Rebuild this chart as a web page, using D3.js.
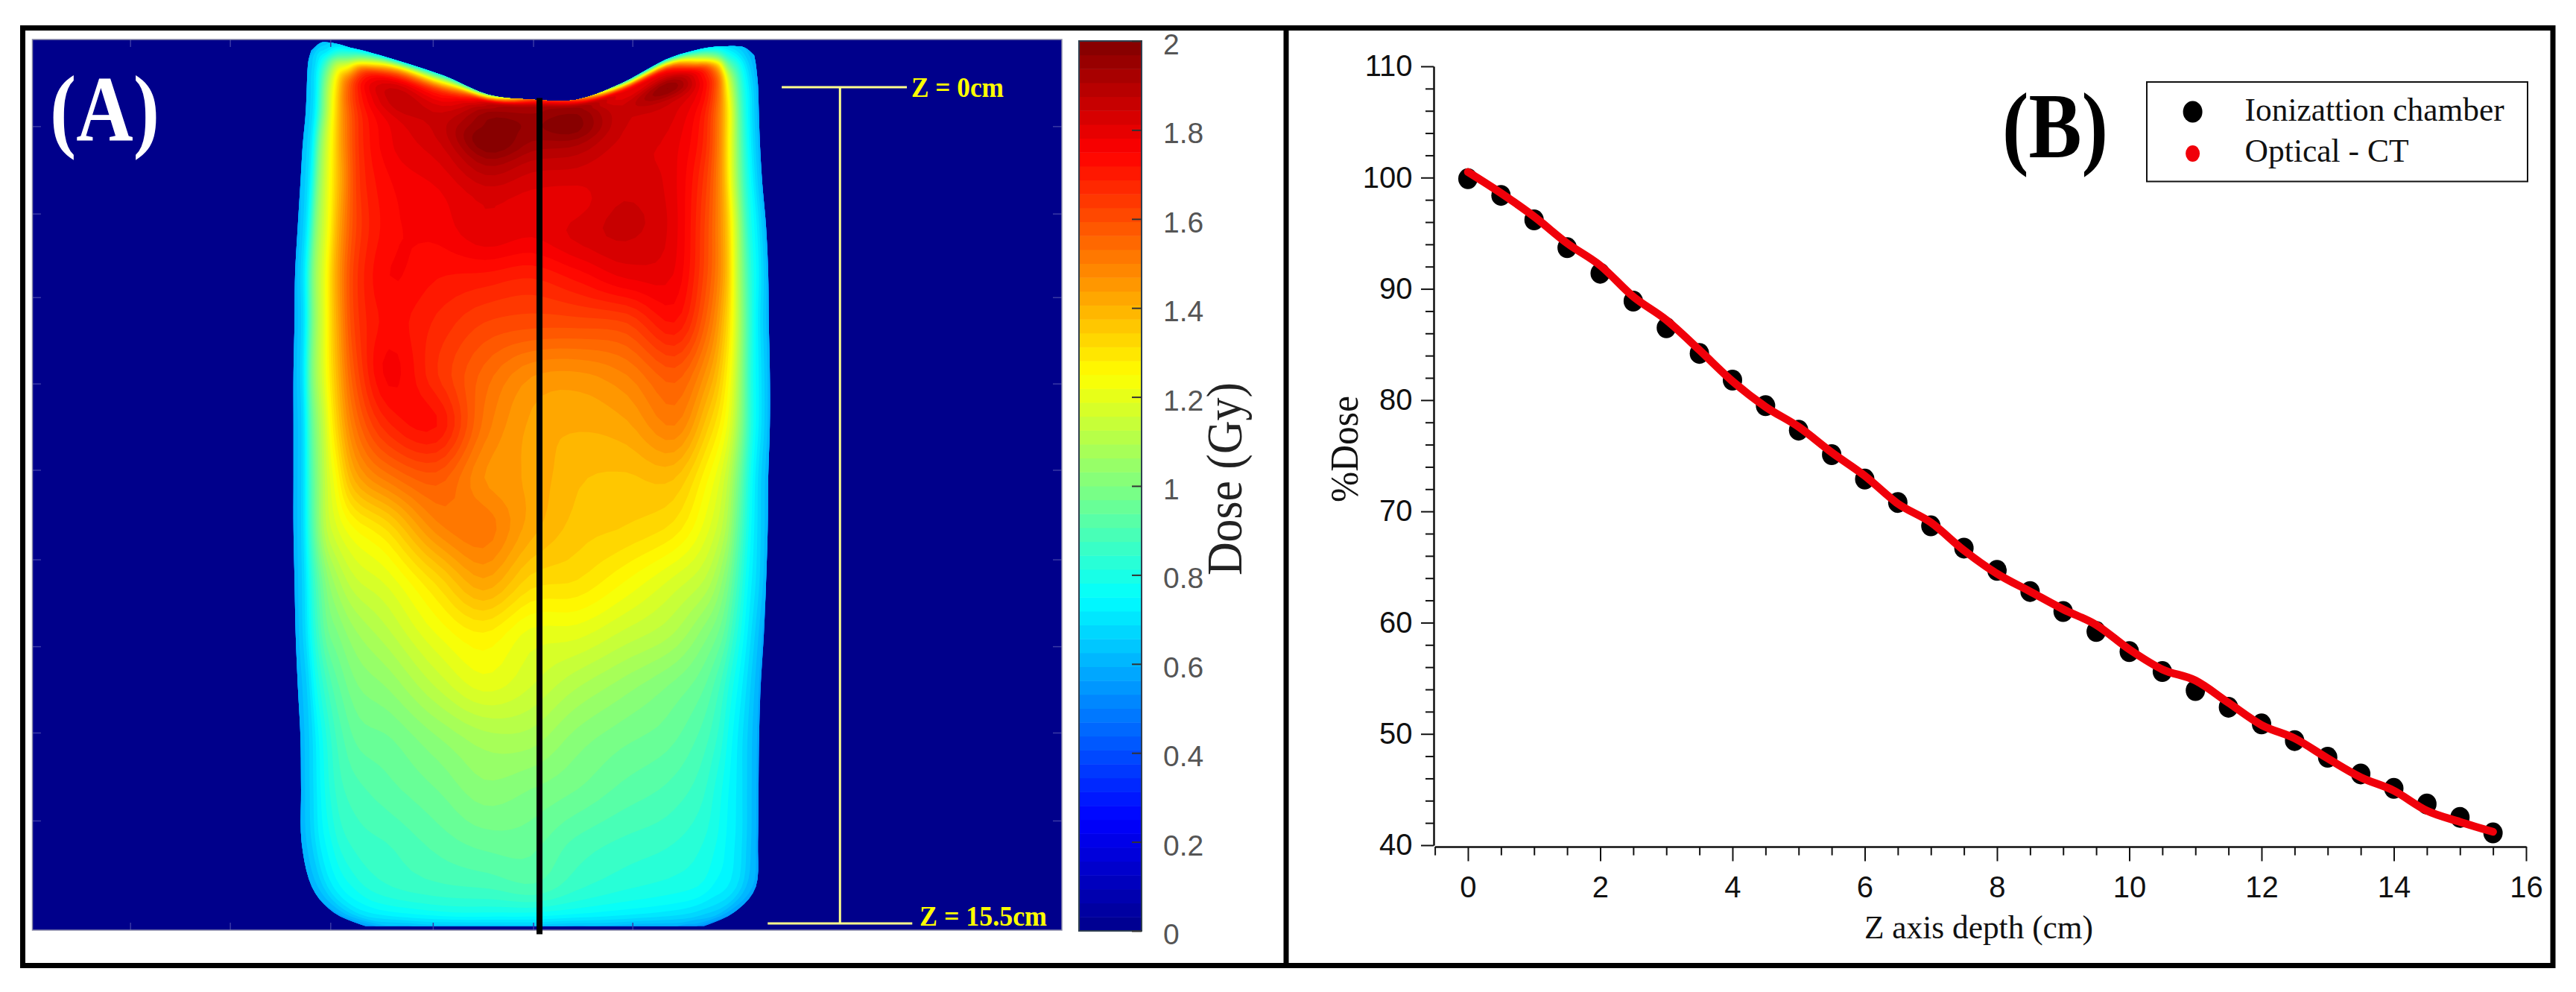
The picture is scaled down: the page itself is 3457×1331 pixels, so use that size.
<!DOCTYPE html>
<html>
<head>
<meta charset="utf-8">
<script src="https://cdn.jsdelivr.net/npm/d3@7"></script>
<style>
    html, body { margin: 0; padding: 0; background: #fff; }
    svg { display: block; }
</style>
</head>
<body>
<div id="chartContainer"></div>
<script>
// Panel B: depth dose curves
const depthCm = [0, 0.5, 1, 1.5, 2, 2.5, 3, 3.5, 4, 4.5, 5, 5.5, 6, 6.5, 7, 7.5, 8, 8.5, 9, 9.5, 10, 10.5, 11, 11.5, 12, 12.5, 13, 13.5, 14, 14.5, 15, 15.5];
const chamberDose = [99.9, 98.4, 96.2, 93.7, 91.4, 88.9, 86.5, 84.2, 81.8, 79.5, 77.3, 75.1, 72.9, 70.8, 68.7, 66.7, 64.7, 62.8, 61, 59.2, 57.4, 55.6, 53.9, 52.4, 50.9, 49.4, 47.9, 46.4, 45.1, 43.7, 42.5, 41.1];
const opticalDose = [100.5, 98.6, 96.5, 94.1, 92.1, 89.3, 87.2, 84.5, 81.7, 79.4, 77.6, 75.3, 73.2, 70.7, 69, 66.5, 64.4, 62.8, 61.2, 59.8, 57.6, 55.8, 54.8, 52.8, 50.8, 49.6, 47.8, 46.1, 44.9, 43.1, 42.1, 41.2];
const xMajorTicks = [0, 2, 4, 6, 8, 10, 12, 14, 16];
const xMinorTicks = [-0.5, 0.5, 1, 1.5, 2.5, 3, 3.5, 4.5, 5, 5.5, 6.5, 7, 7.5, 8.5, 9, 9.5, 10.5, 11, 11.5, 12.5, 13, 13.5, 14.5, 15, 15.5];
const yMajorTicks = [40, 50, 60, 70, 80, 90, 100, 110];
const yMinorTicks = [42, 44, 46, 48, 52, 54, 56, 58, 62, 64, 66, 68, 72, 74, 76, 78, 82, 84, 86, 88, 92, 94, 96, 98, 102, 104, 106, 108];
const legendNames = ["Ionizattion chamber", "Optical - CT"];

// Panel A: dose map. Rows run down the phantom, columns across it.
const doseTicks = [0, 0.2, 0.4, 0.6, 0.8, 1, 1.2, 1.4, 1.6, 1.8, 2];
const columnStops = [0, 0.02, 0.04, 0.065, 0.09, 0.13, 0.2, 0.3, 0.4, 0.5, 0.6, 0.7, 0.8, 0.87, 0.91, 0.935, 0.96, 0.98, 1];
const rowDepth = [-0.83, -0.65, -0.46, -0.23, 0.07, 0.46, 1.01, 1.70, 2.53, 3.43, 4.32, 5.29, 6.26, 7.22, 8.19, 9.16, 10.12, 11.09, 12.06, 13.02, 13.99, 14.82, 15.30, 15.55];
const leftEdge = [-4.23, -4.28, -4.30, -4.31, -4.32, -4.34, -4.39, -4.43, -4.48, -4.53, -4.54, -4.56, -4.56, -4.56, -4.56, -4.54, -4.52, -4.48, -4.43, -4.42, -4.41, -4.22, -3.81, -3.23];
const rightEdge = [3.98, 4.01, 4.03, 4.05, 4.06, 4.07, 4.09, 4.13, 4.20, 4.24, 4.25, 4.27, 4.27, 4.24, 4.23, 4.20, 4.16, 4.10, 4.07, 4.06, 4.05, 4.01, 3.60, 3.05];
const surfaceDip = [0.15, 0.01, 0, 0.04, 0.10, 0.18, 0.35, 0.62, 0.97, 1.06, 1.06, 0.76, 0.32, 0.14, 0.08, 0.07, 0.07, 0.10, 0.24];
const doseRows = [
    [.6, .62, .65, .68, .7, .72, .75, .8, 1.0, 1.6, 1.6, .9, .75, .72, .7, .68, .65, .62, .6],
    [.62, .68, .72, .85, .95, 1.15, 1.4, 1.3, 1.75, 1.88, 1.9, 1.7, 1.6, 1.2, 1.0, .82, .72, .65, .6],
    [.62, .7, .85, 1.1, 1.25, 1.6, 1.72, 1.65, 1.9, 1.93, 1.96, 1.8, 1.85, 1.68, 1.4, 1.0, .8, .68, .6],
    [.62, .72, .95, 1.25, 1.5, 1.75, 1.85, 1.78, 1.96, 1.96, 1.98, 1.85, 1.97, 1.78, 1.55, 1.15, .85, .7, .6],
    [.62, .72, 1.0, 1.3, 1.55, 1.74, 1.86, 1.85, 1.98, 1.96, 1.97, 1.85, 1.85, 1.76, 1.55, 1.22, .88, .72, .6],
    [.62, .72, 1.0, 1.3, 1.52, 1.7, 1.8, 1.86, 2.0, 1.92, 1.9, 1.84, 1.82, 1.72, 1.52, 1.25, .9, .72, .6],
    [.62, .72, 1.02, 1.27, 1.48, 1.68, 1.78, 1.82, 1.9, 1.85, 1.84, 1.82, 1.8, 1.7, 1.5, 1.22, .9, .72, .6],
    [.62, .72, 1.02, 1.25, 1.44, 1.66, 1.75, 1.78, 1.82, 1.8, 1.8, 1.84, 1.8, 1.66, 1.46, 1.18, .88, .72, .6],
    [.6, .72, 1.02, 1.23, 1.44, 1.64, 1.74, 1.76, 1.8, 1.78, 1.82, 1.85, 1.8, 1.62, 1.42, 1.15, .85, .72, .6],
    [.6, .72, 1.02, 1.23, 1.44, 1.65, 1.75, 1.72, 1.7, 1.68, 1.72, 1.78, 1.78, 1.6, 1.4, 1.12, .85, .72, .6],
    [.6, .7, 1.0, 1.22, 1.42, 1.64, 1.73, 1.68, 1.62, 1.6, 1.6, 1.62, 1.72, 1.55, 1.35, 1.12, .85, .7, .6],
    [.6, .7, 1.0, 1.2, 1.38, 1.6, 1.76, 1.66, 1.55, 1.47, 1.46, 1.5, 1.58, 1.45, 1.28, 1.08, .82, .7, .6],
    [.6, .68, .95, 1.15, 1.33, 1.53, 1.68, 1.72, 1.52, 1.43, 1.41, 1.43, 1.5, 1.35, 1.22, 1.05, .82, .7, .6],
    [.6, .68, .92, 1.12, 1.25, 1.42, 1.52, 1.58, 1.47, 1.43, 1.38, 1.37, 1.38, 1.26, 1.15, 1.0, .8, .68, .6],
    [.6, .68, .9, 1.1, 1.18, 1.25, 1.32, 1.48, 1.52, 1.42, 1.36, 1.34, 1.3, 1.2, 1.1, .95, .78, .68, .6],
    [.6, .68, .85, 1.0, 1.08, 1.15, 1.2, 1.32, 1.43, 1.33, 1.31, 1.25, 1.18, 1.12, 1.02, .9, .76, .68, .6],
    [.6, .68, .82, .95, 1.0, 1.06, 1.12, 1.22, 1.28, 1.21, 1.2, 1.15, 1.1, 1.02, .95, .85, .74, .66, .58],
    [.6, .66, .78, .88, .94, 1.0, 1.04, 1.13, 1.2, 1.16, 1.1, 1.05, 1.0, .95, .88, .8, .72, .65, .58],
    [.6, .66, .75, .84, .9, .95, .97, 1.03, 1.08, 1.08, 1.02, .98, .95, .9, .84, .77, .7, .64, .58],
    [.6, .66, .74, .82, .87, .9, .93, .97, 1.02, 1.0, .97, .93, .9, .86, .8, .75, .7, .64, .58],
    [.6, .65, .72, .78, .83, .86, .88, .92, .95, .95, .9, .87, .85, .82, .78, .74, .7, .64, .58],
    [.6, .64, .7, .75, .78, .82, .85, .87, .88, .9, .85, .82, .8, .78, .74, .72, .68, .62, .58],
    [.58, .62, .66, .7, .72, .74, .76, .78, .78, .78, .76, .74, .72, .7, .68, .66, .64, .6, .56],
    [.56, .58, .6, .62, .62, .62, .64, .64, .64, .64, .62, .62, .6, .6, .6, .58, .58, .56, .54]
];

function createChart() {
    const width = 3457;
    const height = 1331;
    const serif = '"Liberation Serif", "Times New Roman", serif';
    const narrow = '"Liberation Sans Narrow", "Liberation Sans", sans-serif';

    const svg = d3.create("svg")
        .attr("width", width)
        .attr("height", height)
        .attr("viewBox", `0 0 ${width} ${height}`)
        .style("background", "#fff");

    // Scales for panel A, lateral and depth position in cm.
    const heatX = d3.scaleLinear().domain([-10, 10]).range([0, 1448]);
    const heatY = d3.scaleLinear().domain([0, 15.5]).range([117, 1239]);

    // MATLAB style jet colormap.
    const jet = d3.scaleLinear()
        .domain([0, 0.25, 0.75, 1.25, 1.75, 2])
        .range(["#00008b", "#0000ff", "#00ffff", "#ffff00", "#ff0000", "#800000"]);

    // Map background.
    svg.append("rect")
        .attr("x", 43.5)
        .attr("y", 53)
        .attr("width", 1381.5)
        .attr("height", 1195)
        .attr("fill", "#00008b");

    // Resample the table so the filled contours come out round.
    const factor = 5;
    const nCols = columnStops.length;
    const nRows = doseRows.length;
    const fineCols = (nCols - 1) * factor + 1;
    const fineRows = (nRows - 1) * factor + 1;
    const cubic = (a, b, c, d, t) => b + 0.5 * t * (c - a + t * (2 * a - 5 * b + 4 * c - d + t * (3 * (b - c) + d - a)));
    const sampleRow = (row, t) => {
        const s = Math.max(0, Math.min(row.length - 1, t));
        const i = Math.min(Math.floor(s), row.length - 2);
        const at = k => row[Math.max(0, Math.min(row.length - 1, k))];
        return cubic(at(i - 1), at(i), at(i + 1), at(i + 2), s - i);
    };
    const fine = new Array(fineCols * fineRows);
    for (let i = 0; i < fineCols; i++) {
        const column = doseRows.map(row => sampleRow(row, i / factor));
        for (let j = 0; j < fineRows; j++) {
            fine[j * fineCols + i] = sampleRow(column, j / factor);
        }
    }

    // Index space of the grid to position on the phantom.
    const span = rowDepth[nRows - 1] - rowDepth[0];
    const meshPath = d3.geoPath(d3.geoTransform({
        point(px, py) {
            const i = (px - 0.5) / factor;
            const j = (py - 0.5) / factor;
            const rowZ = sampleRow(rowDepth, j);
            const fade = Math.pow(1 - (rowZ - rowDepth[0]) / span, 6);
            const left = sampleRow(leftEdge, j);
            const right = sampleRow(rightEdge, j);
            const lateral = left + (right - left) * sampleRow(columnStops, i);
            this.stream.point(heatX(lateral), heatY(rowZ + sampleRow(surfaceDip, i) * fade));
        }
    }));

    // Filled contours, one for each of the 64 colormap levels.
    const levels = d3.range(16, 64).map(k => k * 2 / 64);
    const contours = d3.contours()
        .size([fineCols, fineRows])
        .thresholds(levels)(fine);

    svg.append("g")
        .selectAll("path")
        .data(contours)
        .join("path")
        .attr("d", meshPath)
        .attr("fill", d => jet(d.value + 1 / 64));

    // Faint ticks the image still shows along its edges.
    const heatFrame = svg.append("g")
        .attr("fill", "none")
        .attr("stroke", "#3a3aa5")
        .attr("stroke-width", 1.5);
    [-7.58, -5.73, -3.87, -1.97, -0.11, 1.73].forEach(v => {
        heatFrame.append("line").attr("x1", heatX(v)).attr("x2", heatX(v)).attr("y1", 53).attr("y2", 63);
        heatFrame.append("line").attr("x1", heatX(v)).attr("x2", heatX(v)).attr("y1", 1238).attr("y2", 1248);
    });
    [0.73, 2.35, 3.9, 5.5, 7.1, 8.76, 10.37, 11.97, 13.6].forEach(v => {
        heatFrame.append("line").attr("x1", 1413).attr("x2", 1425).attr("y1", heatY(v)).attr("y2", heatY(v));
        heatFrame.append("line").attr("x1", 43.5).attr("x2", 55).attr("y1", heatY(v)).attr("y2", heatY(v));
    });
    svg.append("rect")
        .attr("x", 43.5)
        .attr("y", 53)
        .attr("width", 1381.5)
        .attr("height", 1195)
        .attr("fill", "none")
        .attr("stroke", "#8a8aa8")
        .attr("stroke-width", 1.5);

    // Central axis line.
    svg.append("line")
        .attr("x1", heatX(0))
        .attr("x2", heatX(0))
        .attr("y1", heatY(0.2))
        .attr("y2", heatY(15.7))
        .attr("stroke", "#000")
        .attr("stroke-width", 8);

    // Yellow depth markers.
    const marker = svg.append("g")
        .attr("stroke", "#ffff8c")
        .attr("stroke-width", 3);
    marker.append("line").attr("x1", heatX(4.49)).attr("x2", heatX(6.81)).attr("y1", heatY(0)).attr("y2", heatY(0));
    marker.append("line").attr("x1", heatX(5.57)).attr("x2", heatX(5.57)).attr("y1", heatY(0)).attr("y2", heatY(15.5));
    marker.append("line").attr("x1", heatX(4.23)).attr("x2", heatX(6.91)).attr("y1", heatY(15.5)).attr("y2", heatY(15.5));

    const markerText = svg.append("g")
        .style("font", `bold 38px ${serif}`)
        .attr("fill", "#ffff00");
    markerText.append("text")
        .attr("x", 1223).attr("y", 130)
        .attr("textLength", 124).attr("lengthAdjust", "spacingAndGlyphs")
        .text("Z = 0cm");
    markerText.append("text")
        .attr("x", 1234).attr("y", 1242)
        .attr("textLength", 171).attr("lengthAdjust", "spacingAndGlyphs")
        .text("Z = 15.5cm");

    svg.append("text")
        .attr("x", 67).attr("y", 188)
        .attr("textLength", 147).attr("lengthAdjust", "spacingAndGlyphs")
        .style("font", `bold 124px ${serif}`)
        .attr("fill", "#fff")
        .text("(A)");

    // Colorbar.
    const barY = d3.scaleLinear().domain([0, 2]).range([1249, 55]);
    svg.append("g")
        .selectAll("rect")
        .data(d3.range(64))
        .join("rect")
        .attr("x", 1448)
        .attr("width", 84)
        .attr("y", k => barY((k + 1) * 2 / 64))
        .attr("height", k => barY(k * 2 / 64) - barY((k + 1) * 2 / 64) + 0.5)
        .attr("fill", k => jet((k + 0.5) * 2 / 64));
    svg.append("rect")
        .attr("x", 1448).attr("y", 55).attr("width", 84).attr("height", 1194)
        .attr("fill", "none").attr("stroke", "#2f3f4f").attr("stroke-width", 2);

    const barAxis = svg.append("g")
        .attr("transform", "translate(1532,0)")
        .call(d3.axisRight(barY).tickValues(doseTicks).tickSize(-13).tickPadding(29).tickFormat(d3.format("")));
    barAxis.select(".domain").remove();
    barAxis.selectAll("line").attr("stroke", "#333").attr("stroke-width", 2);
    barAxis.selectAll("text")
        .attr("dy", "0.45em")
        .style("font", '39px "Liberation Sans", Arial, sans-serif')
        .attr("fill", "#555");

    svg.append("text")
        .attr("transform", "translate(1666,772) rotate(-90)")
        .attr("textLength", 259).attr("lengthAdjust", "spacingAndGlyphs")
        .style("font", `68px ${serif}`)
        .attr("fill", "#222")
        .text("Dose (Gy)");

    // Scales for panel B.
    const x = d3.scaleLinear().domain([-0.5, 16]).range([1925.6, 3390]);
    const y = d3.scaleLinear().domain([40, 110]).range([1134, 89]);

    const xAxis = svg.append("g")
        .attr("transform", "translate(0,1136)")
        .call(d3.axisBottom(x).tickValues(xMajorTicks).tickSize(19.5).tickSizeOuter(0).tickPadding(20).tickFormat(d3.format("")));
    const xAxisMinor = svg.append("g")
        .attr("transform", "translate(0,1136)")
        .call(d3.axisBottom(x).tickValues(xMinorTicks).tickSize(11.6).tickSizeOuter(0).tickFormat(""));
    const yAxis = svg.append("g")
        .attr("transform", "translate(1924,0)")
        .call(d3.axisLeft(y).tickValues(yMajorTicks).tickSize(17).tickSizeOuter(0).tickPadding(11.5).tickFormat(d3.format("")));
    const yAxisMinor = svg.append("g")
        .attr("transform", "translate(1924,0)")
        .call(d3.axisLeft(y).tickValues(yMinorTicks).tickSize(11).tickSizeOuter(0).tickFormat(""));
    [xAxis, xAxisMinor, yAxis, yAxisMinor].forEach(axis => {
        axis.selectAll("line").attr("stroke", "#111").attr("stroke-width", 2);
        axis.select(".domain").attr("stroke", "#111").attr("stroke-width", 2);
        axis.selectAll("text").style("font", `40px ${narrow}`).attr("fill", "#111");
    });

    svg.append("text")
        .attr("x", 2502).attr("y", 1259)
        .attr("textLength", 307).attr("lengthAdjust", "spacingAndGlyphs")
        .style("font", `45px ${serif}`)
        .attr("fill", "#111")
        .text("Z axis depth (cm)");

    svg.append("text")
        .attr("transform", "translate(1822,674) rotate(-90)")
        .attr("textLength", 143).attr("lengthAdjust", "spacingAndGlyphs")
        .style("font", `52px ${serif}`)
        .attr("fill", "#111")
        .text("%Dose");

    // Ionization chamber points and the optical CT curve on top.
    svg.append("g")
        .selectAll("ellipse")
        .data(depthCm)
        .join("ellipse")
        .attr("cx", d => x(d))
        .attr("cy", (d, i) => y(chamberDose[i]))
        .attr("rx", 13)
        .attr("ry", 14)
        .attr("fill", "#000");

    const line = d3.line()
        .x(d => x(d))
        .y((d, i) => y(opticalDose[i]))
        .curve(d3.curveMonotoneX);
    svg.append("path")
        .datum(depthCm)
        .attr("d", line)
        .attr("fill", "none")
        .attr("stroke", "#f0000a")
        .attr("stroke-width", 10.5)
        .attr("stroke-linecap", "round")
        .attr("stroke-linejoin", "round");

    svg.append("text")
        .attr("x", 2687).attr("y", 211)
        .attr("textLength", 142).attr("lengthAdjust", "spacingAndGlyphs")
        .style("font", `bold 124px ${serif}`)
        .attr("fill", "#000")
        .text("(B)");

    // Legend.
    const legend = svg.append("g");
    legend.append("rect")
        .attr("x", 2881).attr("y", 110).attr("width", 511).attr("height", 133.5)
        .attr("fill", "#fff").attr("stroke", "#111").attr("stroke-width", 2);
    legend.append("ellipse")
        .attr("cx", 2942.6).attr("cy", 150).attr("rx", 13).attr("ry", 14.5).attr("fill", "#000");
    legend.append("ellipse")
        .attr("cx", 2942.6).attr("cy", 206).attr("rx", 9.5).attr("ry", 11).attr("fill", "#f0000a");
    legend.selectAll("text")
        .data(legendNames)
        .join("text")
        .attr("x", 3012.6)
        .attr("y", (d, i) => i === 0 ? 161.5 : 217)
        .attr("textLength", (d, i) => i === 0 ? 348 : 220)
        .attr("lengthAdjust", "spacingAndGlyphs")
        .style("font", `45px ${serif}`)
        .attr("fill", "#111")
        .text(d => d);

    // Panel frame.
    const frame = svg.append("g").attr("fill", "none").attr("stroke", "#000").attr("stroke-width", 7);
    frame.append("rect").attr("x", 30.5).attr("y", 37.5).attr("width", 3395.5).attr("height", 1258);
    frame.append("line").attr("x1", 1726).attr("x2", 1726).attr("y1", 37.5).attr("y2", 1295.5);

    return svg.node();
}

document.getElementById("chartContainer").appendChild(createChart());
</script>
</body>
</html>
